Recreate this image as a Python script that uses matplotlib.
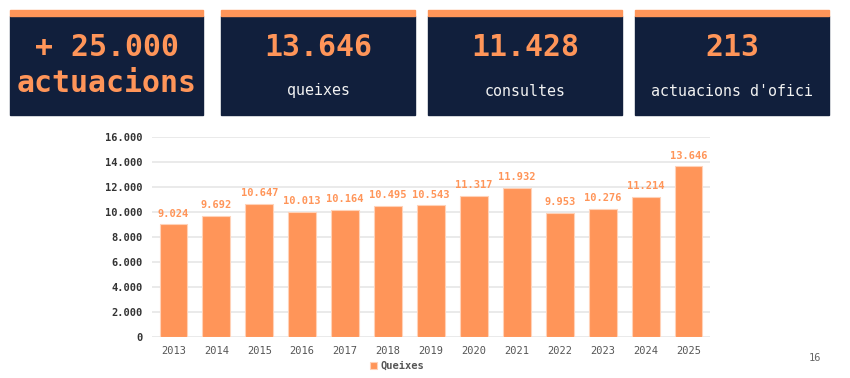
import matplotlib.pyplot as plt
from matplotlib.patches import Rectangle

# dades
anys = ['2013', '2014', '2015', '2016', '2017', '2018', '2019',
        '2020', '2021', '2022', '2023', '2024', '2025']
queixes = [9024, 9692, 10647, 10013, 10164, 10495, 10543,
           11317, 11932, 9953, 10276, 11214, 13646]
xifres = ['+ 25.000', '13.646', '11.428', '213']
textos = ['actuacions', 'queixes', 'consultes', "actuacions d'ofici"]

taronja = '#FF9559'
navy = '#111F3C'
mono = 'DejaVu Sans Mono'

W, H = 850, 378
fig = plt.figure(figsize=(W / 100, H / 100), dpi=100)
fig.patch.set_facecolor('white')


def fx(px):
    return px / W


def fy(py):
    return 1 - py / H


# targetes de dalt
caixes = [(10, 203), (221, 415), (428, 622), (635, 829)]
for i, (x0, x1) in enumerate(caixes):
    fig.patches.append(Rectangle((fx(x0), fy(115)), fx(x1 - x0), (115 - 16) / H,
                                 transform=fig.transFigure, color=navy, zorder=1))
    fig.patches.append(Rectangle((fx(x0), fy(16)), fx(x1 - x0), 6 / H,
                                 transform=fig.transFigure, color=taronja, zorder=2))
    xc = fx((x0 + x1) / 2)
    if i == 0:
        fig.text(xc, fy(47), xifres[i], ha='center', va='center', color=taronja,
                 fontsize=21.5, fontweight='bold', family=mono)
        fig.text(xc, fy(84), textos[i], ha='center', va='center', color=taronja,
                 fontsize=21.5, fontweight='bold', family=mono)
    else:
        fig.text(xc, fy(48), xifres[i], ha='center', va='center', color=taronja,
                 fontsize=21.5, fontweight='bold', family=mono)
        fig.text(xc, fy(91), textos[i], ha='center', va='center', color='#F2F2F2',
                 fontsize=10.8, family=mono)

# grafic de barres
ax = fig.add_axes([fx(152), fy(337), fx(710 - 152), (337 - 137) / H])
x = range(len(anys))
bars = ax.bar(x, queixes, width=0.65, color=taronja, edgecolor='#FFD2B8',
              linewidth=0.8, label='Queixes', zorder=3)
for b, v in zip(bars, queixes):
    ax.text(b.get_x() + b.get_width() / 2, v + 450, f'{v:,}'.replace(',', '.'),
            ha='center', va='bottom', color=taronja, fontsize=7.5,
            fontweight='bold', family=mono)

ax.set_xlim(-0.5, len(anys) - 0.5)
ax.set_ylim(0, 16000)
ax.set_yticks(range(0, 16001, 2000))
ax.set_yticklabels([f'{v:,}'.replace(',', '.') for v in range(0, 16001, 2000)],
                   family=mono, fontsize=7.5, fontweight='bold', color='#333333')
ax.set_xticks(list(x))
ax.set_xticklabels(anys, family=mono, fontsize=7.5, color='#555555')
ax.grid(axis='y', color='#E6E6E6', linewidth=1.2, zorder=0)
ax.tick_params(length=0)
ax.tick_params(axis='x', pad=6.5)
ax.tick_params(axis='y', pad=7)
for s in ax.spines.values():
    s.set_visible(False)

leg = fig.legend(handles=[bars], labels=['Queixes'], loc='center',
                 bbox_to_anchor=(fx(397), fy(366)), frameon=False,
                 prop={'family': mono, 'size': 7.5, 'weight': 'bold'},
                 handlelength=0.7, handleheight=0.7, handletextpad=0.3)
for t in leg.get_texts():
    t.set_color('#555555')

fig.text(fx(815), fy(358), '16', ha='center', va='center', fontsize=7.5,
         color='#666666', family=mono)

fig.savefig('out.png', dpi=100, facecolor='white')
